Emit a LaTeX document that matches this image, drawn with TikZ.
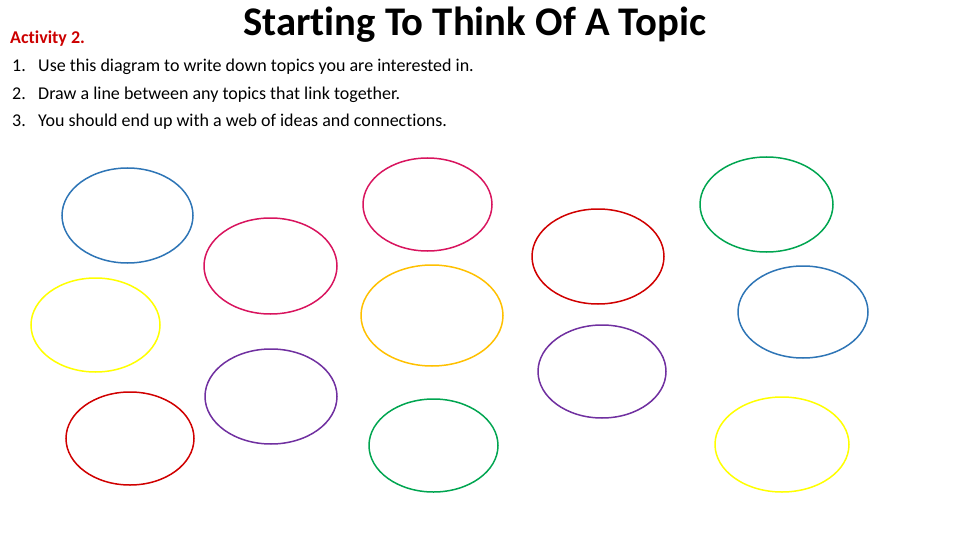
\documentclass[tikz,border=0pt]{standalone}
\usepackage{fontspec}
\setmainfont{Carlito}[Ligatures=NoCommon]
\usepackage{tikz}
\usetikzlibrary{shapes.geometric}
\definecolor{topicblue}{HTML}{2E75B6}
\definecolor{topicpink}{HTML}{D8145E}
\definecolor{topicyellow}{HTML}{FFFF00}
\definecolor{topicred}{HTML}{D00000}
\definecolor{topicpurple}{HTML}{7030A0}
\definecolor{topicgold}{HTML}{FFC000}
\definecolor{topicgreen}{HTML}{00A550}
\tikzset{
  bubble/.style={draw=#1, ellipse, line width=1.5pt, inner sep=0pt},
  steptext/.style={anchor=base west, font=\fontsize{18}{20}\selectfont, inner sep=0pt}
}

\begin{document}
\begin{tikzpicture}[x=1pt, y=-1pt]
			\useasboundingbox (0,0) rectangle (960,540);
			% heading
			\node[anchor=base west, inner sep=0pt, text=red!80!black, font=\fontsize{18}{20}\selectfont\bfseries] (act) at (10,44) {Activity 2.};
			\node[anchor=base west, inner sep=0pt, font=\fontsize{40.7}{42}\selectfont\bfseries] (title) at (243,36) {Starting To Think Of A Topic};
			\node[steptext] (n1) at (12,72) {1.};
			\node[steptext] (s1) at (38,72) {Use this diagram to write down topics you are interested in.};
			\node[steptext] (n2) at (12,100) {2.};
			\node[steptext] (s2) at (38,100) {Draw a line between any topics that link together.};
			\node[steptext] (n3) at (12,127) {3.};
			\node[steptext] (s3) at (38,127) {You should end up with a web of ideas and connections.};
			% topic bubbles
			\node[bubble=topicblue, minimum width=131pt, minimum height=95pt] (t1) at (127.5,215.5) {};
			\node[bubble=topicyellow, minimum width=129pt, minimum height=94pt] (t2) at (95.5,325) {};
			\node[bubble=topicred, minimum width=128pt, minimum height=93pt] (t3) at (130,438.5) {};
			\node[bubble=topicpink, minimum width=133pt, minimum height=96pt] (t4) at (270.5,266) {};
			\node[bubble=topicpurple, minimum width=132pt, minimum height=95pt] (t5) at (271,396.5) {};
			\node[bubble=topicpink, minimum width=129pt, minimum height=93pt] (t6) at (427.5,204.5) {};
			\node[bubble=topicgold, minimum width=142pt, minimum height=101pt] (t7) at (432,315.5) {};
			\node[bubble=topicgreen, minimum width=129pt, minimum height=93pt] (t8) at (433.5,445.5) {};
			\node[bubble=topicred, minimum width=132pt, minimum height=95pt] (t9) at (598,256.5) {};
			\node[bubble=topicpurple, minimum width=128pt, minimum height=93pt] (t10) at (602,371.5) {};
			\node[bubble=topicgreen, minimum width=133pt, minimum height=95pt] (t11) at (766.5,204.5) {};
			\node[bubble=topicblue, minimum width=130pt, minimum height=92pt] (t12) at (803,312) {};
			\node[bubble=topicyellow, minimum width=134pt, minimum height=95pt] (t13) at (782,444.5) {};
		\end{tikzpicture}
\end{document}
